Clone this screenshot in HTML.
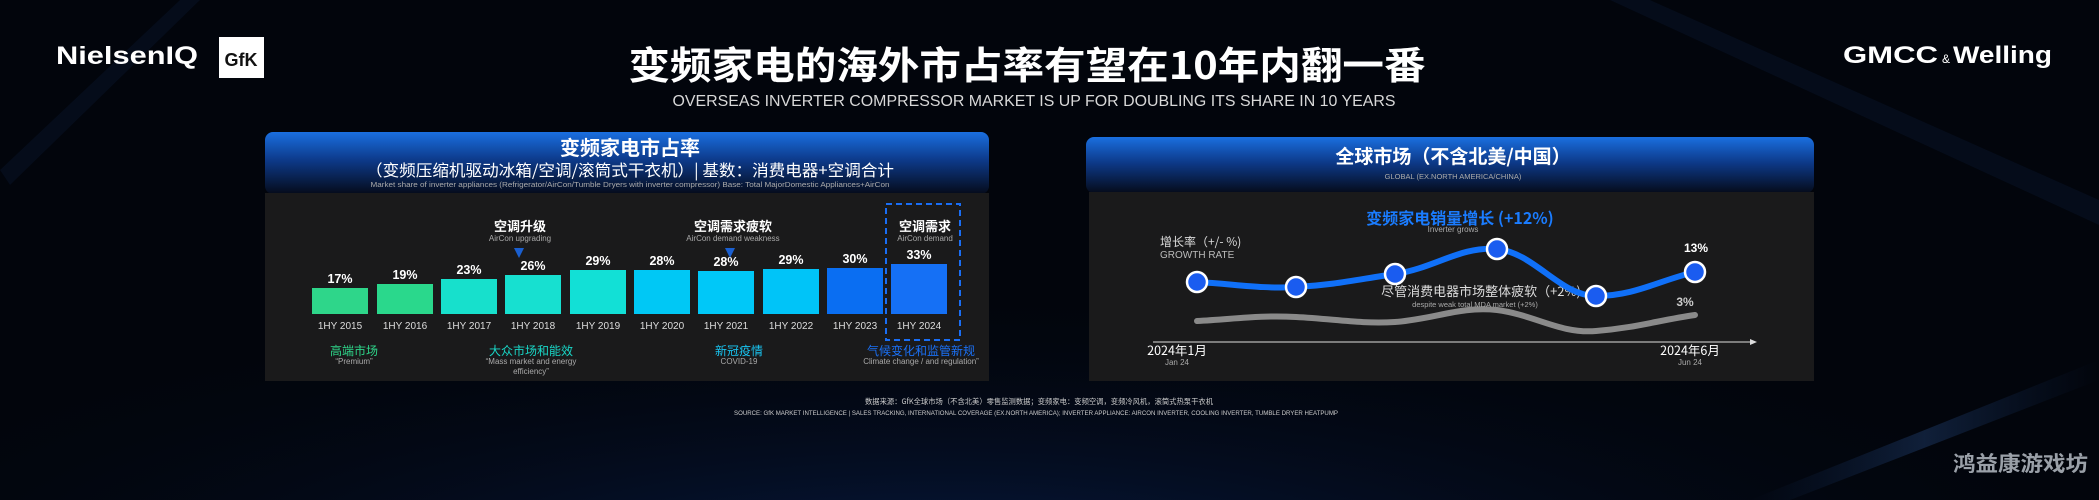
<!DOCTYPE html>
<html><head><meta charset="utf-8"><style>
html,body{margin:0;padding:0;background:#02040a;}
svg{display:block}
text{font-family:"Liberation Sans","Noto Sans CJK SC",sans-serif;}
.cn{font-family:"Noto Sans CJK SC","Liberation Sans",sans-serif;}
.sf{font-family:"Liberation Serif","Noto Serif CJK SC",serif;}
</style></head><body>
<svg width="2099" height="500" viewBox="0 0 2099 500" xmlns="http://www.w3.org/2000/svg">
<defs>
<radialGradient id="bg1" cx="0.45" cy="1.15" r="0.6"><stop offset="0" stop-color="#0b2a6a" stop-opacity="0.6"/><stop offset="1" stop-color="#02040a" stop-opacity="0"/></radialGradient>
<linearGradient id="hdr" x1="0" y1="0" x2="0" y2="1"><stop offset="0" stop-color="#1a6fe0"/><stop offset="0.45" stop-color="#0d3a8a"/><stop offset="1" stop-color="#050b1a"/></linearGradient>
<linearGradient id="streak" x1="0" y1="0" x2="1" y2="0"><stop offset="0" stop-color="#1d4fa0" stop-opacity="0"/><stop offset="0.5" stop-color="#3a6fc0" stop-opacity="0.25"/><stop offset="1" stop-color="#1d4fa0" stop-opacity="0"/></linearGradient>
</defs>
<rect width="2099" height="500" fill="#02050c"/>
<rect width="2099" height="500" fill="url(#bg1)"/>
<path d="M1750 500 L2099 360 L2099 380 L1790 500Z" fill="url(#streak)"/>
<path d="M0 170 L180 0 L200 0 L10 185Z" fill="#1d3f80" opacity="0.12"/>
<path d="M1650 0 L2099 200 L2099 225 L1610 0Z" fill="#1d3f80" opacity="0.12"/>

<!-- header -->
<text x="56" y="64" font-size="25" font-weight="bold" fill="#fff" textLength="142" lengthAdjust="spacingAndGlyphs">NielsenIQ</text>
<rect x="219" y="37" width="45" height="41" fill="#fff"/>
<text x="241" y="66" font-size="18" font-weight="bold" fill="#111" text-anchor="middle">GfK</text>
<text x="1027" y="79" font-size="38" font-weight="bold" fill="#fff" text-anchor="middle" class="cn" textLength="797" lengthAdjust="spacingAndGlyphs">变频家电的海外市占率有望在10年内翻一番</text>
<text x="1034" y="106" font-size="16" fill="#d8d8d8" text-anchor="middle" textLength="723" lengthAdjust="spacingAndGlyphs">OVERSEAS INVERTER COMPRESSOR MARKET IS UP FOR DOUBLING ITS SHARE IN 10 YEARS</text>
<text x="1843" y="63" font-size="24" font-weight="bold" fill="#fff" textLength="95" lengthAdjust="spacingAndGlyphs">GMCC</text>
<text x="1942" y="63" font-size="12" fill="#fff">&amp;</text>
<text x="1953" y="63" font-size="24" font-weight="bold" fill="#fff" textLength="99" lengthAdjust="spacingAndGlyphs">Welling</text>

<!-- left panel -->
<rect x="265" y="132" width="724" height="62" rx="8" fill="url(#hdr)"/>
<rect x="265" y="193" width="724" height="188" fill="#1a1a1b"/>
<text x="630" y="155" font-size="20" font-weight="bold" fill="#fff" text-anchor="middle" class="cn">变频家电市占率</text>
<text x="630" y="176" font-size="16" fill="#fff" text-anchor="middle" class="cn" textLength="528" lengthAdjust="spacingAndGlyphs">（变频压缩机驱动冰箱/空调/滚筒式干衣机）| 基数：消费电器+空调合计</text>
<text x="630" y="187" font-size="7" fill="#aaa" text-anchor="middle" textLength="519" lengthAdjust="spacingAndGlyphs">Market share of inverter appliances (Refrigerator/AirCon/Tumble Dryers with inverter compressor) Base: Total MajorDomestic Appliances+AirCon</text>

<g>
<rect x="312" y="288" width="56" height="26" fill="#2ed68a"/>
<rect x="377" y="284" width="56" height="30" fill="#2ad88c"/>
<rect x="441" y="279" width="56" height="35" fill="#17e0cc"/>
<rect x="505" y="275" width="56" height="39" fill="#17e0d0"/>
<rect x="570" y="270" width="56" height="44" fill="#12e0d6"/>
<rect x="634" y="270" width="56" height="44" fill="#00c8f5"/>
<rect x="698" y="271" width="56" height="43" fill="#00c8f8"/>
<rect x="763" y="269" width="56" height="45" fill="#00c4f8"/>
<rect x="827" y="268" width="56" height="46" fill="#0a6ef2"/>
<rect x="891" y="264" width="56" height="50" fill="#1570f5"/>
</g>
<g font-size="12.5" font-weight="bold" fill="#fff" text-anchor="middle">
<text x="340" y="283">17%</text><text x="405" y="279">19%</text><text x="469" y="274">23%</text>
<text x="533" y="270">26%</text><text x="598" y="265">29%</text><text x="662" y="265">28%</text>
<text x="726" y="266">28%</text><text x="791" y="264">29%</text><text x="855" y="263">30%</text>
<text x="919" y="259">33%</text>
</g>
<g font-size="10" fill="#ddd" text-anchor="middle" class="sf">
<text x="340" y="329">1HY 2015</text><text x="405" y="329">1HY 2016</text><text x="469" y="329">1HY 2017</text>
<text x="533" y="329">1HY 2018</text><text x="598" y="329">1HY 2019</text><text x="662" y="329">1HY 2020</text>
<text x="726" y="329">1HY 2021</text><text x="791" y="329">1HY 2022</text><text x="855" y="329">1HY 2023</text>
<text x="919" y="329">1HY 2024</text>
</g>
<rect x="886" y="204" width="74" height="136" fill="none" stroke="#1a6ef5" stroke-width="2" stroke-dasharray="6,4"/>
<text x="520" y="231" font-size="13" font-weight="bold" fill="#fff" text-anchor="middle" class="cn">空调升级</text>
<text x="520" y="241" font-size="8" fill="#aaa" text-anchor="middle">AirCon upgrading</text>
<path d="M514 248 L524 248 L519 258Z" fill="#1a5fd0"/>
<text x="733" y="231" font-size="13" font-weight="bold" fill="#fff" text-anchor="middle" class="cn">空调需求疲软</text>
<text x="733" y="241" font-size="8" fill="#aaa" text-anchor="middle">AirCon demand weakness</text>
<path d="M725 248 L735 248 L730 258Z" fill="#1a5fd0"/>
<text x="925" y="231" font-size="13" font-weight="bold" fill="#fff" text-anchor="middle" class="cn">空调需求</text>
<text x="925" y="241" font-size="8" fill="#aaa" text-anchor="middle">AirCon demand</text>

<text x="354" y="355" font-size="12" fill="#2ed68a" text-anchor="middle" class="cn">高端市场</text>
<text x="354" y="364" font-size="8" fill="#aaa" text-anchor="middle">“Premium”</text>
<text x="531" y="355" font-size="12" fill="#19d8c8" text-anchor="middle" class="cn">大众市场和能效</text>
<text x="531" y="364" font-size="8" fill="#aaa" text-anchor="middle">“Mass market and energy</text>
<text x="531" y="374" font-size="8" fill="#aaa" text-anchor="middle">efficiency”</text>
<text x="739" y="355" font-size="12" fill="#19c4f0" text-anchor="middle" class="cn">新冠疫情</text>
<text x="739" y="364" font-size="8" fill="#aaa" text-anchor="middle">COVID-19</text>
<text x="921" y="355" font-size="12" fill="#1a70f5" text-anchor="middle" class="cn">气候变化和监管新规</text>
<text x="921" y="364" font-size="8" fill="#aaa" text-anchor="middle">Climate change / and regulation”</text>

<!-- right panel -->
<rect x="1086" y="137" width="728" height="56" rx="8" fill="url(#hdr)"/>
<rect x="1089" y="192" width="725" height="189" fill="#1a1a1b"/>
<text x="1453" y="163" font-size="19" font-weight="bold" fill="#fff" text-anchor="middle" class="cn">全球市场（不含北美/中国）</text>
<text x="1453" y="179" font-size="7.5" fill="#aaa" text-anchor="middle">GLOBAL (EX.NORTH AMERICA/CHINA)</text>

<text x="1460" y="224" font-size="16" font-weight="bold" fill="#1a7cff" text-anchor="middle" class="cn">变频家电销量增长 (+12%)</text>
<text x="1453" y="232" font-size="8" fill="#aaa" text-anchor="middle">Inverter grows</text>
<text x="1160" y="246" font-size="12" fill="#ddd" class="cn">增长率（+/- %)</text>
<text x="1160" y="258" font-size="10" fill="#bbb">GROWTH RATE</text>

<path d="M1197 321 C1235 319 1260 315 1296 317 C1335 319 1360 324 1395 322 C1435 319 1460 306 1497 310 C1535 315 1560 334 1596 331 C1635 328 1660 320 1695 315" fill="none" stroke="#8a8a8a" stroke-width="6" stroke-linecap="round"/>
<text x="1481" y="296" font-size="13" fill="#ddd" text-anchor="middle" class="cn">尽管消费电器市场整体疲软（+2%)</text>
<text x="1475" y="307" font-size="7.5" fill="#aaa" text-anchor="middle">despite weak total MDA market (+2%)</text>
<path d="M1197 282 C1235 284 1260 289 1296 287 C1335 285 1360 279 1395 274 C1435 268 1460 246 1497 249 C1535 253 1560 296 1596 296 C1635 296 1660 280 1695 272" fill="none" stroke="#1070f8" stroke-width="6" stroke-linecap="round"/>
<g fill="#1a5cf0" stroke="#fff" stroke-width="2.5">
<circle cx="1197" cy="282" r="10"/><circle cx="1296" cy="287" r="10"/><circle cx="1395" cy="274" r="10"/>
<circle cx="1497" cy="249" r="10"/><circle cx="1596" cy="296" r="10"/><circle cx="1695" cy="272" r="10"/>
</g>
<text x="1696" y="252" font-size="12" font-weight="bold" fill="#fff" text-anchor="middle">13%</text>
<text x="1685" y="306" font-size="12" font-weight="bold" fill="#ccc" text-anchor="middle">3%</text>
<line x1="1153" y1="342" x2="1752" y2="342" stroke="#ddd" stroke-width="1"/>
<path d="M1750 339 L1757 342 L1750 345Z" fill="#ddd"/>
<text x="1177" y="355" font-size="12.5" fill="#fff" text-anchor="middle" class="cn">2024年1月</text>
<text x="1177" y="365" font-size="8" fill="#aaa" text-anchor="middle">Jan 24</text>
<text x="1690" y="355" font-size="12.5" fill="#fff" text-anchor="middle" class="cn">2024年6月</text>
<text x="1690" y="365" font-size="8" fill="#aaa" text-anchor="middle">Jun 24</text>

<!-- footer -->
<text x="1039" y="404" font-size="7.5" fill="#ccc" text-anchor="middle" class="cn" textLength="348" lengthAdjust="spacingAndGlyphs">数据来源：GfK全球市场（不含北美）零售监测数据；变频家电：变频空调，变频冷风机，滚筒式热泵干衣机</text>
<text x="1036" y="415" font-size="6.5" fill="#ccc" text-anchor="middle" textLength="604" lengthAdjust="spacingAndGlyphs">SOURCE: GfK MARKET INTELLIGENCE | SALES TRACKING, INTERNATIONAL COVERAGE (EX.NORTH AMERICA); INVERTER APPLIANCE: AIRCON INVERTER, COOLING INVERTER, TUMBLE DRYER HEATPUMP</text>
<text x="2088" y="471" font-size="21" font-weight="bold" fill="#9aa0a8" text-anchor="end" class="cn" textLength="135" lengthAdjust="spacingAndGlyphs">鸿益康游戏坊</text>
</svg>
</body></html>
